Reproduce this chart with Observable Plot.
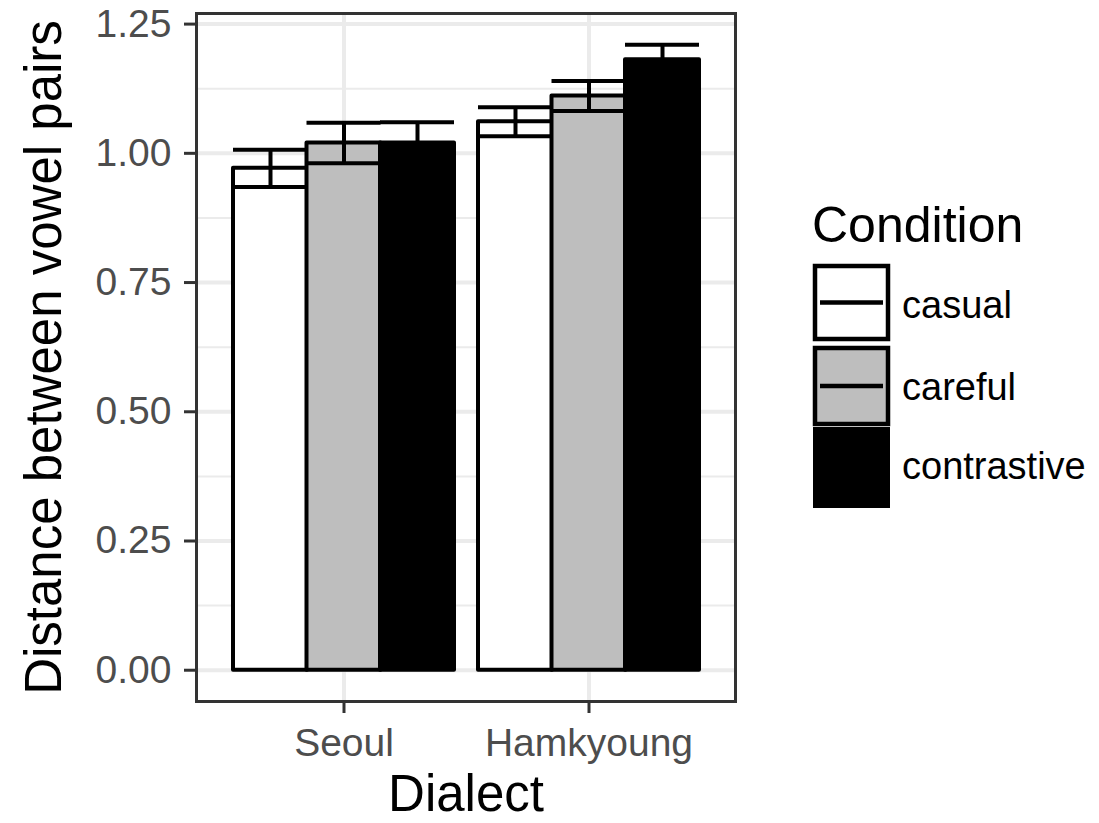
<!DOCTYPE html>
<html><head><meta charset="utf-8">
<script src="https://cdn.jsdelivr.net/npm/d3@7"></script>
<script src="https://cdn.jsdelivr.net/npm/@observablehq/plot@0.6"></script>
<style>
body{margin:0;background:#fff;}
#wrap{position:relative;width:1099px;height:823px;font-family:"Liberation Sans",Arial,Helvetica,sans-serif;}
#legend{position:absolute;left:0;top:0;pointer-events:none;}
</style></head><body><div id="wrap"></div>
<script>
// ---- data ----
const dialects = ["Seoul", "Hamkyoung"];
const conditions = ["casual", "careful", "contrastive"];
const seoulMean = [0.971, 1.020, 1.020];
const seoulSE   = [0.036, 0.039, 0.040];
const hamMean   = [1.061, 1.111, 1.181];
const hamSE     = [0.028, 0.029, 0.029];
const yTicks = [0, 0.25, 0.5, 0.75, 1, 1.25];
const yMinor = [0.125, 0.375, 0.625, 0.875, 1.125];
const fills = ["#FFFFFF", "#BEBEBE", "#000000"];

const rows = [];
dialects.forEach((d, di) => {
  const m = di === 0 ? seoulMean : hamMean;
  const s = di === 0 ? seoulSE : hamSE;
  conditions.forEach((c, ci) => rows.push({dialect: d, condition: c, mean: m[ci], lo: m[ci] - s[ci], hi: m[ci] + s[ci]}));
});

// ---- layout ----
const W = 1099, H = 823, mL = 196, mR = 364, mT = 13, mB = 122;
const step = (W - mL - mR) / 2.2;
const barW = 0.9 * step / 3;
const font = "Liberation Sans, Arial, Helvetica, sans-serif";

const barMarks = [], errMarks = [];
conditions.forEach((c, i) => {
  const sub = rows.filter(r => r.condition === c);
  const inset = {insetLeft: i * barW, insetRight: (2 - i) * barW};
  barMarks.push(Plot.barY(sub, {x: "dialect", y: "mean", fill: fills[i], stroke: "#000", strokeWidth: 4, strokeLinejoin: "round", ...inset}));
  errMarks.push(Plot.ruleX(sub, {x: "dialect", y1: "lo", y2: "hi", dx: (i - 1) * barW, stroke: "#000", strokeWidth: 4}));
  errMarks.push(Plot.tickY(sub, {x: "dialect", y: "hi", stroke: "#000", strokeWidth: 4, ...inset}));
  errMarks.push(Plot.tickY(sub, {x: "dialect", y: "lo", stroke: "#000", strokeWidth: 4, ...inset}));
});

const chart = Plot.plot({
  width: W, height: H,
  marginLeft: mL, marginRight: mR, marginTop: mT, marginBottom: mB,
  style: {fontFamily: font, background: "white", overflow: "visible"},
  x: {type: "band", domain: dialects, paddingInner: 0.1, paddingOuter: 0.15, axis: null},
  y: {domain: [-0.0605, 1.2705], axis: null},
  marks: [
    Plot.gridY(yMinor, {stroke: "#EBEBEB", strokeOpacity: 1, strokeWidth: 2}),
    Plot.gridY(yTicks, {stroke: "#EBEBEB", strokeOpacity: 1, strokeWidth: 4}),
    Plot.gridX({stroke: "#EBEBEB", strokeOpacity: 1, strokeWidth: 4}),
    ...barMarks,
    ...errMarks,
    Plot.frame({stroke: "#333333", strokeWidth: 3}),
    Plot.axisY(yTicks, {tickFormat: d3.format(".2f"), tickSize: 12, tickPadding: 13, fontSize: 39, fill: "#4D4D4D", stroke: "#333333", strokeWidth: 3, label: null}),
    Plot.axisX({tickSize: 12, tickPadding: 15, fontSize: 39, fill: "#4D4D4D", stroke: "#333333", strokeWidth: 3, label: null}),
    Plot.text(["Dialect"], {text: d => d, frameAnchor: "bottom", textAnchor: "middle", lineAnchor: "middle", dy: 93.5, fontSize: 51, fill: "#000"}),
    Plot.text(["Distance between vowel pairs"], {text: d => d, frameAnchor: "left", textAnchor: "middle", lineAnchor: "middle", rotate: -90, dx: -152.3, fontSize: 51, fill: "#000"})
  ]
});
const wrap = document.getElementById("wrap");
wrap.appendChild(chart);

// ---- legend ----
const lg = d3.select(wrap).append("svg").attr("id", "legend").attr("width", W).attr("height", H)
  .style("font-family", font);
lg.append("text").attr("x", 812).attr("y", 242).attr("font-size", 50).attr("fill", "#000").text("Condition");
const keyTops = [264, 346, 427];
const keyBottoms = [341, 426, 508];
const labelBase = [318, 400, 479];
conditions.forEach((c, i) => {
  const y0 = keyTops[i], y1 = keyBottoms[i];
  if (i < 2) {
    lg.append("rect").attr("x", 815).attr("y", y0 + 2).attr("width", 73).attr("height", y1 - y0 - 4)
      .attr("fill", fills[i]).attr("stroke", "#000").attr("stroke-width", 4.5);
    lg.append("line").attr("x1", 820).attr("x2", 883).attr("y1", (y0 + y1) / 2).attr("y2", (y0 + y1) / 2)
      .attr("stroke", "#000").attr("stroke-width", 4.5);
  } else {
    lg.append("rect").attr("x", 813).attr("y", y0).attr("width", 77).attr("height", y1 - y0).attr("fill", fills[i]);
  }
  lg.append("text").attr("x", 902).attr("y", labelBase[i]).attr("font-size", 38).attr("fill", "#000").text(c);
});
</script></body></html>
